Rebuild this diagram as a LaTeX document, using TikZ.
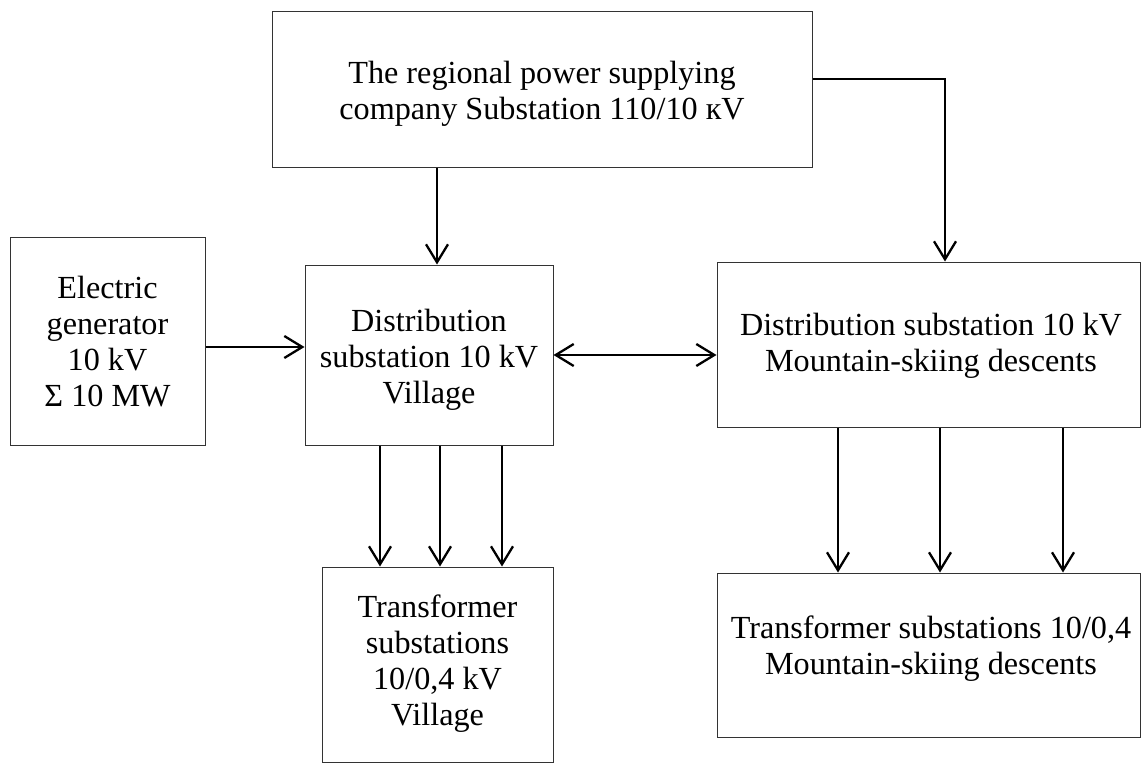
\documentclass[tikz,border=0pt]{standalone}
\usepackage{fontspec}
\setmainfont{Liberation Serif}
\usetikzlibrary{arrows.meta}
\begin{document}
\begin{tikzpicture}[x=1pt,y=-1pt,
  box/.style={draw=black!80,line width=1pt,rectangle,inner sep=0pt},
  lbl/.style={align=center,font=\fontsize{32.2}{36}\selectfont,inner sep=0pt},
  conn/.style={line width=2.3pt,-{Straight Barb[length=18pt,width=22pt,line width=2.3pt]}},
  conn2/.style={line width=2.3pt,{Straight Barb[length=18pt,width=22pt,line width=2.3pt]}-{Straight Barb[length=18pt,width=22pt,line width=2.3pt]}}]
\useasboundingbox (0,0) rectangle (1146,765);
% boxes
\node[box,minimum width=540,minimum height=156] (top) at (542,90) {};
\node[box,minimum width=195,minimum height=208] (gen) at (107.5,341) {};
\node[box,minimum width=248,minimum height=180] (vdist) at (429,355) {};
\node[box,minimum width=423,minimum height=165] (mdist) at (928.5,344.5) {};
\node[box,minimum width=231,minimum height=195] (vtr) at (437.5,664.5) {};
\node[box,minimum width=423,minimum height=164] (mtr) at (928.5,655) {};
% texts
\node[lbl] (topt) at (542,94) {The regional power supplying\\company Substation 110/10 кV};
\node[lbl] (gent) at (107.5,342) {Electric\\generator\\10 kV\\Σ 10 MW};
\node[lbl] (vdistt) at (429,360) {Distribution\\substation 10 kV\\Village};
\node[lbl] (mdistt) at (931,346) {Distribution substation 10 kV\\Mountain-skiing descents};
\node[lbl] (vtrt) at (437.5,664) {Transformer\\substations\\10/0,4 kV\\Village};
\node[lbl] (mtrt) at (931,649) {Transformer substations 10/0,4\\Mountain-skiing descents};
% connectors
\coordinate (corner) at (945,79);
\draw[conn] (top.south -| 437,0) -- (vdist.north -| 437,0);
\draw[conn] (top.east |- corner) -- (corner) -- (mdist.north -| corner);
\draw[conn] (gen.east |- 0,347) -- (vdist.west |- 0,347);
\draw[conn2] (vdist.east |- 0,355) -- (mdist.west |- 0,355);
\foreach \x in {380,440,502}
  \draw[conn] (vdist.south -| \x,0) -- (vtr.north -| \x,0);
\foreach \x in {838,940,1063}
  \draw[conn] (mdist.south -| \x,0) -- (mtr.north -| \x,0);
\end{tikzpicture}
\end{document}
